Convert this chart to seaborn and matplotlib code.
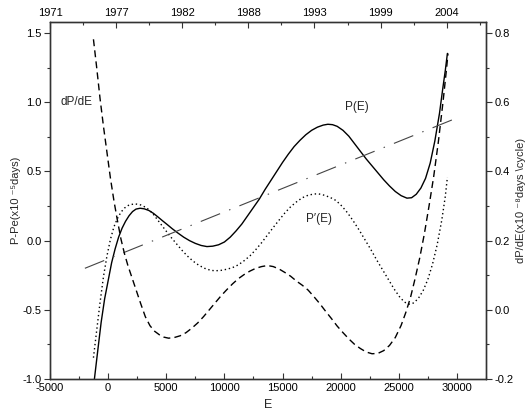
import matplotlib
matplotlib.use("Agg")
import matplotlib.pyplot as plt
import seaborn as sns
from matplotlib.ticker import MultipleLocator, FixedLocator

# ---- data ----
# P(E): solid curve (left axis)
E_P = [-1180, -900, -600, -300, 0, 300, 600, 900, 1200, 1500, 1800, 2100, 2400,
       2750, 3100, 3500, 3900, 4300, 4700, 5100, 5500, 6000, 6500, 7000, 7500,
       8000, 8500, 9000, 9500, 10000, 10500, 11000, 11500, 12000, 12500, 13000,
       13500, 14000, 14500, 15000, 15500, 16000, 16500, 17000, 17500, 18000,
       18500, 18900, 19300, 19700, 20200, 20700, 21200, 21700, 22200, 22700,
       23200, 23700, 24200, 24700, 25200, 25700, 26100, 26500, 26900, 27300,
       27700, 28100, 28500, 28800, 29000, 29180]
P_vals = [-1.00, -0.80, -0.59, -0.42, -0.29, -0.16, -0.06, 0.025, 0.09, 0.14, 0.18,
          0.21, 0.228, 0.234, 0.23, 0.218, 0.197, 0.17, 0.142, 0.115, 0.087, 0.055,
          0.025, 0.0, -0.02, -0.035, -0.043, -0.04, -0.03, -0.01, 0.025, 0.07, 0.12,
          0.18, 0.24, 0.30, 0.37, 0.435, 0.50, 0.565, 0.625, 0.68, 0.725, 0.765,
          0.797, 0.82, 0.835, 0.841, 0.838, 0.826, 0.797, 0.755, 0.70, 0.645, 0.59,
          0.54, 0.49, 0.44, 0.395, 0.355, 0.325, 0.307, 0.31, 0.335, 0.38, 0.45,
          0.56, 0.72, 0.92, 1.11, 1.23, 1.353]

# P'(E): dotted curve (left axis)
E_Pp = [-1263, -1000, -700, -400, -100, 200, 500, 800, 1100, 1400, 1800, 2300, 2800,
        3300, 3800, 4300, 4800, 5300, 5800, 6300, 6800, 7300, 7800, 8300, 8800,
        9200, 9700, 10200, 10700, 11200, 11700, 12200, 12700, 13200, 13700, 14200,
        14700, 15200, 15700, 16200, 16700, 17200, 17700, 18100, 18600, 19100, 19600,
        20100, 20600, 21100, 21600, 22100, 22600, 23100, 23600, 24100, 24600, 25100,
        25500, 25900, 26300, 26700, 27100, 27500, 27900, 28300, 28700, 29000, 29180]
Pp_vals = [-0.846, -0.66, -0.45, -0.26, -0.11, 0.01, 0.10, 0.16, 0.205, 0.235, 0.258,
           0.266, 0.258, 0.238, 0.20, 0.145, 0.09, 0.035, -0.015, -0.065, -0.11,
           -0.148, -0.178, -0.20, -0.214, -0.218, -0.215, -0.207, -0.195, -0.175,
           -0.145, -0.11, -0.065, -0.015, 0.04, 0.095, 0.148, 0.20, 0.245, 0.28,
           0.31, 0.328, 0.337, 0.338, 0.328, 0.312, 0.29, 0.25, 0.20, 0.14, 0.075,
           0.005, -0.065, -0.14, -0.21, -0.28, -0.35, -0.41, -0.445, -0.459, -0.45,
           -0.415, -0.36, -0.28, -0.17, -0.03, 0.15, 0.32, 0.459]

# dP/dE: dashed curve (right axis)
E_d = [-1263, -1000, -700, -400, -100, 200, 500, 800, 1100, 1400, 1700, 2000, 2400,
       2800, 3200, 3600, 4000, 4400, 4800, 5200, 5700, 6200, 6700, 7200, 7700, 8200,
       8700, 9200, 9700, 10200, 10700, 11200, 11700, 12200, 12700, 13200, 13700,
       14200, 14700, 15200, 15700, 16200, 16700, 17200, 17700, 18200, 18700, 19200,
       19700, 20200, 20700, 21200, 21700, 22200, 22700, 23200, 23700, 24200, 24700,
       25200, 25600, 26000, 26400, 26800, 27200, 27600, 28000, 28400, 28800, 29100,
       29232]
d_vals = [0.782, 0.705, 0.612, 0.53, 0.455, 0.38, 0.315, 0.258, 0.205, 0.163, 0.128,
          0.098, 0.058, 0.018, -0.02, -0.046, -0.062, -0.072, -0.079, -0.082, -0.08,
          -0.075, -0.066, -0.053, -0.038, -0.02, 0.0, 0.02, 0.04, 0.058, 0.075, 0.09,
          0.102, 0.112, 0.12, 0.125, 0.128, 0.125, 0.118, 0.108, 0.097, 0.083, 0.071,
          0.057, 0.038, 0.018, -0.004, -0.025, -0.047, -0.066, -0.084, -0.1, -0.112,
          -0.122, -0.127, -0.126, -0.118, -0.103, -0.08, -0.045, -0.008, 0.035, 0.09,
          0.15, 0.22, 0.30, 0.385, 0.485, 0.60, 0.695, 0.741]

# linear trend: dash-dot line (left axis)
E_lin = [-2000, 30100]
lin_vals = [-0.20, 0.89]

# ticks
x_ticks = [-5000, 0, 5000, 10000, 15000, 20000, 25000, 30000]
left_ticks = [-1.0, -0.5, 0.0, 0.5, 1.0, 1.5]
right_ticks = [-0.2, 0.0, 0.2, 0.4, 0.6, 0.8]
top_labels = ["1971", "1977", "1982", "1988", "1993", "1999", "2004"]

sns.set_theme(style="ticks")
plt.rcParams['font.family'] = ['Liberation Sans', 'DejaVu Sans']
plt.rcParams['lines.scale_dashes'] = False

fig = plt.figure(figsize=(5.26, 4.16), dpi=100)
W, H = 526, 416
ax = fig.add_axes([50 / W, 1 - 379 / H, 436 / W, 357 / H])

ax.set_xlim(-5000, 32500)
ax.set_ylim(-1.0, 1.58)

sns.lineplot(x=E_P, y=P_vals, ax=ax, color='black', linewidth=1.0, sort=False)
sns.lineplot(x=E_Pp, y=Pp_vals, ax=ax, color='black', linewidth=1.0,
             linestyle=(0, (1.0, 2.0)), sort=False)
sns.lineplot(x=E_lin, y=lin_vals, ax=ax, color='#444444', linewidth=0.8,
             linestyle=(0, (15, 7, 1, 7)), sort=False)

ax2 = ax.twinx()
ax2.set_ylim(-0.2, 0.832)
sns.lineplot(x=E_d, y=d_vals, ax=ax2, color='black', linewidth=1.0,
             linestyle=(0, (5, 3)), sort=False)

ax3 = ax.twiny()
yr0 = 1971.0
yr1 = 1971.0 + 37500 / 34120 * 33
ax3.set_xlim(yr0, yr1)
ax3.xaxis.set_major_locator(FixedLocator([yr0 + 5.5 * k for k in range(len(top_labels))]))
ax3.set_xticklabels(top_labels)
ax3.xaxis.set_minor_locator(FixedLocator([yr0 + 2.75 + 5.5 * k for k in range(7)]))

# axes formatting
ax.set_xticks(x_ticks)
ax.set_xticklabels([str(v) for v in x_ticks])
ax.xaxis.set_minor_locator(MultipleLocator(2500))
ax.set_yticks(left_ticks)
ax.set_yticklabels([f"{v:.1f}" for v in left_ticks])
ax.yaxis.set_minor_locator(MultipleLocator(0.25))
ax2.set_yticks(right_ticks)
ax2.set_yticklabels([f"{v:.1f}" for v in right_ticks])
ax2.yaxis.set_minor_locator(MultipleLocator(0.1))

fs = 8
ax.tick_params(axis='x', which='major', direction='in', length=4, width=0.8,
               labelsize=fs, pad=3, colors='#333333', labelcolor='black')
ax.tick_params(axis='x', which='minor', direction='in', length=2, width=0.8, colors='#333333')
ax.tick_params(axis='y', which='major', direction='out', length=4, width=0.8,
               labelsize=fs, pad=2, colors='#333333', labelcolor='black')
ax.tick_params(axis='y', which='minor', direction='out', length=2, width=0.8, colors='#333333')
ax2.tick_params(axis='y', which='major', direction='out', length=4, width=0.8,
                labelsize=fs, pad=2, colors='#333333', labelcolor='black')
ax2.tick_params(axis='y', which='minor', direction='out', length=2, width=0.8, colors='#333333')
ax3.tick_params(axis='x', which='major', direction='in', length=4, width=0.8,
                labelsize=fs, pad=3, colors='#333333', labelcolor='black')
ax3.tick_params(axis='x', which='minor', direction='in', length=2, width=0.8, colors='#333333')

for a in (ax, ax2, ax3):
    for s in a.spines.values():
        s.set_visible(True)
        s.set_color('#333333')
        s.set_linewidth(0.9)

ax.set_xlabel("E", fontsize=9, labelpad=4)
ax.set_ylabel("P-Pe(x10 \u207b\u2075days)", fontsize=8, labelpad=1)
ax2.set_ylabel("dP/dE(x10 \u207b\u2078days \\cycle)", fontsize=8, labelpad=2)

ax.text(-2750, 1.0, "dP/dE", fontsize=8.5, ha='center', va='center')
ax.text(21364, 0.966, "P(E)", fontsize=8.5, ha='center', va='center')
ax.text(18125, 0.154, "P\u2032(E)", fontsize=8.5, ha='center', va='center')

fig.savefig("out.png", dpi=100)
